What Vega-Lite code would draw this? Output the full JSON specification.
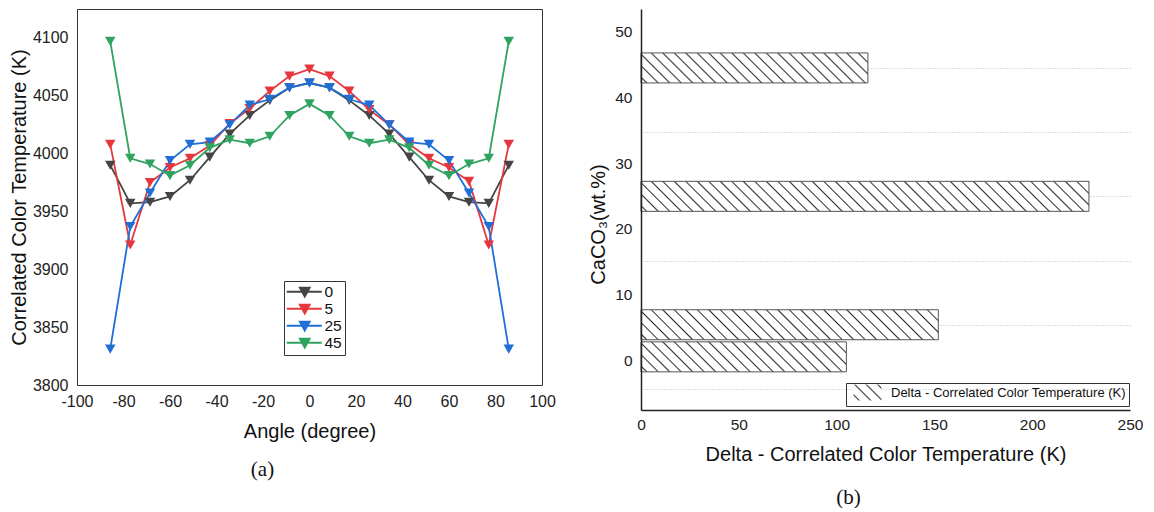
{
  "$schema": "https://vega.github.io/schema/vega-lite/v6.json",
  "background": "white",
  "padding": {"left": 8, "top": 8, "right": 0, "bottom": 0},
  "spacing": 32,
  "resolve": {"scale": {"color": "independent", "strokeDash": "independent"}, "legend": {"color": "independent", "strokeDash": "independent"}},
  "config": {
    "font": "Liberation Sans",
    "axis": {"labelFont": "Liberation Sans", "titleFont": "Liberation Sans", "labelColor": "#222", "titleColor": "#111", "titleFontWeight": "normal", "ticks": false, "grid": false, "labelFontSize": 16, "titleFontSize": 20, "labelFlush": false, "labelOverlap": false}
  },
  "datasets": {
    "cct": [
      {"angle": -85.7, "series": "0", "cct": 3990}, {"angle": -77.1, "series": "0", "cct": 3957}, {"angle": -68.6, "series": "0", "cct": 3958}, {"angle": -60, "series": "0", "cct": 3963}, {"angle": -51.4, "series": "0", "cct": 3977}, {"angle": -42.9, "series": "0", "cct": 3997}, {"angle": -34.3, "series": "0", "cct": 4017}, {"angle": -25.7, "series": "0", "cct": 4033}, {"angle": -17.1, "series": "0", "cct": 4046}, {"angle": -8.6, "series": "0", "cct": 4057}, {"angle": 0, "series": "0", "cct": 4061}, {"angle": 8.6, "series": "0", "cct": 4057}, {"angle": 17.1, "series": "0", "cct": 4046}, {"angle": 25.7, "series": "0", "cct": 4033}, {"angle": 34.3, "series": "0", "cct": 4017}, {"angle": 42.9, "series": "0", "cct": 3997}, {"angle": 51.4, "series": "0", "cct": 3977}, {"angle": 60, "series": "0", "cct": 3963}, {"angle": 68.6, "series": "0", "cct": 3958}, {"angle": 77.1, "series": "0", "cct": 3957}, {"angle": 85.7, "series": "0", "cct": 3990},
      {"angle": -85.7, "series": "5", "cct": 4008}, {"angle": -77.1, "series": "5", "cct": 3921}, {"angle": -68.6, "series": "5", "cct": 3975}, {"angle": -60, "series": "5", "cct": 3988}, {"angle": -51.4, "series": "5", "cct": 3996}, {"angle": -42.9, "series": "5", "cct": 4007}, {"angle": -34.3, "series": "5", "cct": 4026}, {"angle": -25.7, "series": "5", "cct": 4039}, {"angle": -17.1, "series": "5", "cct": 4054}, {"angle": -8.6, "series": "5", "cct": 4067}, {"angle": 0, "series": "5", "cct": 4073}, {"angle": 8.6, "series": "5", "cct": 4067}, {"angle": 17.1, "series": "5", "cct": 4054}, {"angle": 25.7, "series": "5", "cct": 4038}, {"angle": 34.3, "series": "5", "cct": 4025}, {"angle": 42.9, "series": "5", "cct": 4008}, {"angle": 51.4, "series": "5", "cct": 3996}, {"angle": 60, "series": "5", "cct": 3988}, {"angle": 68.6, "series": "5", "cct": 3976}, {"angle": 77.1, "series": "5", "cct": 3921}, {"angle": 85.7, "series": "5", "cct": 4008},
      {"angle": -85.7, "series": "25", "cct": 3831}, {"angle": -77.1, "series": "25", "cct": 3937}, {"angle": -68.6, "series": "25", "cct": 3966}, {"angle": -60, "series": "25", "cct": 3994}, {"angle": -51.4, "series": "25", "cct": 4008}, {"angle": -42.9, "series": "25", "cct": 4010}, {"angle": -34.3, "series": "25", "cct": 4025}, {"angle": -25.7, "series": "25", "cct": 4042}, {"angle": -17.1, "series": "25", "cct": 4047}, {"angle": -8.6, "series": "25", "cct": 4057}, {"angle": 0, "series": "25", "cct": 4061}, {"angle": 8.6, "series": "25", "cct": 4057}, {"angle": 17.1, "series": "25", "cct": 4047}, {"angle": 25.7, "series": "25", "cct": 4042}, {"angle": 34.3, "series": "25", "cct": 4025}, {"angle": 42.9, "series": "25", "cct": 4010}, {"angle": 51.4, "series": "25", "cct": 4008}, {"angle": 60, "series": "25", "cct": 3994}, {"angle": 68.6, "series": "25", "cct": 3966}, {"angle": 77.1, "series": "25", "cct": 3937}, {"angle": 85.7, "series": "25", "cct": 3831},
      {"angle": -85.7, "series": "45", "cct": 4097}, {"angle": -77.1, "series": "45", "cct": 3996}, {"angle": -68.6, "series": "45", "cct": 3991}, {"angle": -60, "series": "45", "cct": 3981}, {"angle": -51.4, "series": "45", "cct": 3990}, {"angle": -42.9, "series": "45", "cct": 4005}, {"angle": -34.3, "series": "45", "cct": 4012}, {"angle": -25.7, "series": "45", "cct": 4009}, {"angle": -17.1, "series": "45", "cct": 4015}, {"angle": -8.6, "series": "45", "cct": 4033}, {"angle": 0, "series": "45", "cct": 4043}, {"angle": 8.6, "series": "45", "cct": 4033}, {"angle": 17.1, "series": "45", "cct": 4015}, {"angle": 25.7, "series": "45", "cct": 4009}, {"angle": 34.3, "series": "45", "cct": 4012}, {"angle": 42.9, "series": "45", "cct": 4005}, {"angle": 51.4, "series": "45", "cct": 3990}, {"angle": 60, "series": "45", "cct": 3981}, {"angle": 68.6, "series": "45", "cct": 3991}, {"angle": 77.1, "series": "45", "cct": 3996}, {"angle": 85.7, "series": "45", "cct": 4097}
    ],
    "delta": [
      {"caco3": 0, "delta": 105},
      {"caco3": 5, "delta": 152},
      {"caco3": 25, "delta": 229},
      {"caco3": 45, "delta": 116}
    ]
  },
  "hconcat": [
    {
      "name": "L",
      "width": 465,
      "height": 376,
      "view": {"stroke": "#333", "strokeWidth": 1},
      "data": {"name": "cct"},
      "title": {"text": "(a)", "orient": "bottom", "font": "Liberation Serif", "fontSize": 21, "fontWeight": "normal", "color": "#111", "dx": -47, "offset": 18},
      "mark": {"type": "line", "strokeWidth": 1.8, "point": {"shape": "triangle-down", "filled": true, "size": 110}},
      "encoding": {
        "x": {"field": "angle", "type": "quantitative", "scale": {"domain": [-100, 100], "nice": false},
              "axis": {"values": [-100, -80, -60, -40, -20, 0, 20, 40, 60, 80, 100], "title": "Angle (degree)", "labelExpr": "datum.value", "domain": false, "labelPadding": 8, "titlePadding": 12}},
        "y": {"field": "cct", "type": "quantitative", "scale": {"domain": [3800, 4125], "nice": false, "zero": false},
              "axis": {"values": [3800, 3850, 3900, 3950, 4000, 4050, 4100], "format": "d", "title": "Correlated Color Temperature (K)", "domain": false, "labelPadding": 9, "titlePadding": 3}},
        "color": {"field": "series", "type": "nominal", "sort": ["0", "5", "25", "45"],
                  "scale": {"domain": ["0", "5", "25", "45"], "range": ["#454545", "#e5373d", "#1f6fd6", "#2fa35f"]},
                  "legend": {"orient": "none", "legendX": 207, "legendY": 272, "title": null, "strokeColor": "#333", "padding": 3, "symbolSize": 100, "labelFontSize": 15.5, "labelFont": "Liberation Sans", "labelColor": "#111", "labelOffset": 22, "rowPadding": 0,
                             "encode": {"symbols": {"update": {"shape": {"value": "M-8,0H27M5,-4H15L10,5Z"}, "size": {"value": 4}, "strokeWidth": {"value": 1.8}, "fill": {"scale": "L_color", "field": "value"}, "stroke": {"scale": "L_color", "field": "value"}, "opacity": {"value": 1}}}}}}
      }
    },
    {
      "width": 489,
      "height": 401,
      "view": {"stroke": null},
      "data": {"name": "delta"},
      "title": {"text": "(b)", "orient": "bottom", "font": "Liberation Serif", "fontSize": 21, "fontWeight": "normal", "color": "#111", "dx": -37, "offset": 22},
      "encoding": {
        "x": {"field": "delta", "type": "quantitative", "scale": {"domain": [0, 250], "nice": false},
              "axis": {"values": [0, 50, 100, 150, 200, 250], "title": "Delta - Correlated Color Temperature (K)", "domainColor": "#222", "domainWidth": 1.5, "labelPadding": 7, "titlePadding": 12, "labelFontSize": 15.5, "zindex": 1}}
      },
      "layer": [
        {
          "mark": {"type": "bar", "orient": "horizontal", "size": 30, "stroke": "#555", "strokeWidth": 1},
          "encoding": {
            "y": {"field": "caco3", "type": "quantitative", "scale": {"domain": [-7.5, 53.4], "nice": false, "zero": false},
                  "axis": {"orient": "right", "values": [-5, 5, 15, 25, 35, 45], "grid": true, "gridDash": [1, 2], "gridColor": "#bbb", "gridWidth": 1, "labels": false, "ticks": false, "domain": false, "title": null}},
            "fill": {
              "condition": [
                {"test": "datum.caco3 === 45", "value": {"gradient": "linear", "x1": 0, "y1": 1, "x2": 2.4906, "y2": 0.6707, "stops": [
                  {"offset":0.0074,"color":"#fff"},{"offset":0.01,"color":"#333"},{"offset":0.0126,"color":"#fff"},
                  {"offset":0.0274,"color":"#fff"},{"offset":0.03,"color":"#333"},{"offset":0.0326,"color":"#fff"},
                  {"offset":0.0474,"color":"#fff"},{"offset":0.05,"color":"#333"},{"offset":0.0526,"color":"#fff"},
                  {"offset":0.0674,"color":"#fff"},{"offset":0.07,"color":"#333"},{"offset":0.0726,"color":"#fff"},
                  {"offset":0.0874,"color":"#fff"},{"offset":0.09,"color":"#333"},{"offset":0.0926,"color":"#fff"},
                  {"offset":0.1074,"color":"#fff"},{"offset":0.11,"color":"#333"},{"offset":0.1126,"color":"#fff"},
                  {"offset":0.1274,"color":"#fff"},{"offset":0.13,"color":"#333"},{"offset":0.1326,"color":"#fff"},
                  {"offset":0.1474,"color":"#fff"},{"offset":0.15,"color":"#333"},{"offset":0.1526,"color":"#fff"},
                  {"offset":0.1674,"color":"#fff"},{"offset":0.17,"color":"#333"},{"offset":0.1726,"color":"#fff"},
                  {"offset":0.1874,"color":"#fff"},{"offset":0.19,"color":"#333"},{"offset":0.1926,"color":"#fff"},
                  {"offset":0.2074,"color":"#fff"},{"offset":0.21,"color":"#333"},{"offset":0.2126,"color":"#fff"},
                  {"offset":0.2274,"color":"#fff"},{"offset":0.23,"color":"#333"},{"offset":0.2326,"color":"#fff"},
                  {"offset":0.2474,"color":"#fff"},{"offset":0.25,"color":"#333"},{"offset":0.2526,"color":"#fff"},
                  {"offset":0.2674,"color":"#fff"},{"offset":0.27,"color":"#333"},{"offset":0.2726,"color":"#fff"},
                  {"offset":0.2874,"color":"#fff"},{"offset":0.29,"color":"#333"},{"offset":0.2926,"color":"#fff"},
                  {"offset":0.3074,"color":"#fff"},{"offset":0.31,"color":"#333"},{"offset":0.3126,"color":"#fff"},
                  {"offset":0.3274,"color":"#fff"},{"offset":0.33,"color":"#333"},{"offset":0.3326,"color":"#fff"},
                  {"offset":0.3474,"color":"#fff"},{"offset":0.35,"color":"#333"},{"offset":0.3526,"color":"#fff"},
                  {"offset":0.3674,"color":"#fff"},{"offset":0.37,"color":"#333"},{"offset":0.3726,"color":"#fff"},
                  {"offset":0.3874,"color":"#fff"},{"offset":0.39,"color":"#333"},{"offset":0.3926,"color":"#fff"},
                  {"offset":0.4074,"color":"#fff"},{"offset":0.41,"color":"#333"},{"offset":0.4126,"color":"#fff"},
                  {"offset":0.4274,"color":"#fff"},{"offset":0.43,"color":"#333"},{"offset":0.4326,"color":"#fff"}
                ]}},
                {"test": "datum.caco3 === 25", "value": {"gradient": "linear", "x1": 0, "y1": 1, "x2": 1.278, "y2": 0.9144, "stops": [
                  {"offset":0.0074,"color":"#fff"},{"offset":0.01,"color":"#333"},{"offset":0.0126,"color":"#fff"},
                  {"offset":0.0274,"color":"#fff"},{"offset":0.03,"color":"#333"},{"offset":0.0326,"color":"#fff"},
                  {"offset":0.0474,"color":"#fff"},{"offset":0.05,"color":"#333"},{"offset":0.0526,"color":"#fff"},
                  {"offset":0.0674,"color":"#fff"},{"offset":0.07,"color":"#333"},{"offset":0.0726,"color":"#fff"},
                  {"offset":0.0874,"color":"#fff"},{"offset":0.09,"color":"#333"},{"offset":0.0926,"color":"#fff"},
                  {"offset":0.1074,"color":"#fff"},{"offset":0.11,"color":"#333"},{"offset":0.1126,"color":"#fff"},
                  {"offset":0.1274,"color":"#fff"},{"offset":0.13,"color":"#333"},{"offset":0.1326,"color":"#fff"},
                  {"offset":0.1474,"color":"#fff"},{"offset":0.15,"color":"#333"},{"offset":0.1526,"color":"#fff"},
                  {"offset":0.1674,"color":"#fff"},{"offset":0.17,"color":"#333"},{"offset":0.1726,"color":"#fff"},
                  {"offset":0.1874,"color":"#fff"},{"offset":0.19,"color":"#333"},{"offset":0.1926,"color":"#fff"},
                  {"offset":0.2074,"color":"#fff"},{"offset":0.21,"color":"#333"},{"offset":0.2126,"color":"#fff"},
                  {"offset":0.2274,"color":"#fff"},{"offset":0.23,"color":"#333"},{"offset":0.2326,"color":"#fff"},
                  {"offset":0.2474,"color":"#fff"},{"offset":0.25,"color":"#333"},{"offset":0.2526,"color":"#fff"},
                  {"offset":0.2674,"color":"#fff"},{"offset":0.27,"color":"#333"},{"offset":0.2726,"color":"#fff"},
                  {"offset":0.2874,"color":"#fff"},{"offset":0.29,"color":"#333"},{"offset":0.2926,"color":"#fff"},
                  {"offset":0.3074,"color":"#fff"},{"offset":0.31,"color":"#333"},{"offset":0.3126,"color":"#fff"},
                  {"offset":0.3274,"color":"#fff"},{"offset":0.33,"color":"#333"},{"offset":0.3326,"color":"#fff"},
                  {"offset":0.3474,"color":"#fff"},{"offset":0.35,"color":"#333"},{"offset":0.3526,"color":"#fff"},
                  {"offset":0.3674,"color":"#fff"},{"offset":0.37,"color":"#333"},{"offset":0.3726,"color":"#fff"},
                  {"offset":0.3874,"color":"#fff"},{"offset":0.39,"color":"#333"},{"offset":0.3926,"color":"#fff"},
                  {"offset":0.4074,"color":"#fff"},{"offset":0.41,"color":"#333"},{"offset":0.4126,"color":"#fff"},
                  {"offset":0.4274,"color":"#fff"},{"offset":0.43,"color":"#333"},{"offset":0.4326,"color":"#fff"},
                  {"offset":0.4474,"color":"#fff"},{"offset":0.45,"color":"#333"},{"offset":0.4526,"color":"#fff"},
                  {"offset":0.4674,"color":"#fff"},{"offset":0.47,"color":"#333"},{"offset":0.4726,"color":"#fff"},
                  {"offset":0.4874,"color":"#fff"},{"offset":0.49,"color":"#333"},{"offset":0.4926,"color":"#fff"},
                  {"offset":0.5074,"color":"#fff"},{"offset":0.51,"color":"#333"},{"offset":0.5126,"color":"#fff"},
                  {"offset":0.5274,"color":"#fff"},{"offset":0.53,"color":"#333"},{"offset":0.5326,"color":"#fff"},
                  {"offset":0.5474,"color":"#fff"},{"offset":0.55,"color":"#333"},{"offset":0.5526,"color":"#fff"},
                  {"offset":0.5674,"color":"#fff"},{"offset":0.57,"color":"#333"},{"offset":0.5726,"color":"#fff"},
                  {"offset":0.5874,"color":"#fff"},{"offset":0.59,"color":"#333"},{"offset":0.5926,"color":"#fff"},
                  {"offset":0.6074,"color":"#fff"},{"offset":0.61,"color":"#333"},{"offset":0.6126,"color":"#fff"},
                  {"offset":0.6274,"color":"#fff"},{"offset":0.63,"color":"#333"},{"offset":0.6326,"color":"#fff"},
                  {"offset":0.6474,"color":"#fff"},{"offset":0.65,"color":"#333"},{"offset":0.6526,"color":"#fff"},
                  {"offset":0.6674,"color":"#fff"},{"offset":0.67,"color":"#333"},{"offset":0.6726,"color":"#fff"},
                  {"offset":0.6874,"color":"#fff"},{"offset":0.69,"color":"#333"},{"offset":0.6926,"color":"#fff"},
                  {"offset":0.7074,"color":"#fff"},{"offset":0.71,"color":"#333"},{"offset":0.7126,"color":"#fff"},
                  {"offset":0.7274,"color":"#fff"},{"offset":0.73,"color":"#333"},{"offset":0.7326,"color":"#fff"},
                  {"offset":0.7474,"color":"#fff"},{"offset":0.75,"color":"#333"},{"offset":0.7526,"color":"#fff"},
                  {"offset":0.7674,"color":"#fff"},{"offset":0.77,"color":"#333"},{"offset":0.7726,"color":"#fff"},
                  {"offset":0.7874,"color":"#fff"},{"offset":0.79,"color":"#333"},{"offset":0.7926,"color":"#fff"},
                  {"offset":0.8074,"color":"#fff"},{"offset":0.81,"color":"#333"},{"offset":0.8126,"color":"#fff"},
                  {"offset":0.8274,"color":"#fff"},{"offset":0.83,"color":"#333"},{"offset":0.8326,"color":"#fff"}
                ]}},
                {"test": "datum.caco3 === 5", "value": {"gradient": "linear", "x1": 0, "y1": 1, "x2": 1.9146, "y2": 0.8068, "stops": [
                  {"offset":0.0074,"color":"#fff"},{"offset":0.01,"color":"#333"},{"offset":0.0126,"color":"#fff"},
                  {"offset":0.0274,"color":"#fff"},{"offset":0.03,"color":"#333"},{"offset":0.0326,"color":"#fff"},
                  {"offset":0.0474,"color":"#fff"},{"offset":0.05,"color":"#333"},{"offset":0.0526,"color":"#fff"},
                  {"offset":0.0674,"color":"#fff"},{"offset":0.07,"color":"#333"},{"offset":0.0726,"color":"#fff"},
                  {"offset":0.0874,"color":"#fff"},{"offset":0.09,"color":"#333"},{"offset":0.0926,"color":"#fff"},
                  {"offset":0.1074,"color":"#fff"},{"offset":0.11,"color":"#333"},{"offset":0.1126,"color":"#fff"},
                  {"offset":0.1274,"color":"#fff"},{"offset":0.13,"color":"#333"},{"offset":0.1326,"color":"#fff"},
                  {"offset":0.1474,"color":"#fff"},{"offset":0.15,"color":"#333"},{"offset":0.1526,"color":"#fff"},
                  {"offset":0.1674,"color":"#fff"},{"offset":0.17,"color":"#333"},{"offset":0.1726,"color":"#fff"},
                  {"offset":0.1874,"color":"#fff"},{"offset":0.19,"color":"#333"},{"offset":0.1926,"color":"#fff"},
                  {"offset":0.2074,"color":"#fff"},{"offset":0.21,"color":"#333"},{"offset":0.2126,"color":"#fff"},
                  {"offset":0.2274,"color":"#fff"},{"offset":0.23,"color":"#333"},{"offset":0.2326,"color":"#fff"},
                  {"offset":0.2474,"color":"#fff"},{"offset":0.25,"color":"#333"},{"offset":0.2526,"color":"#fff"},
                  {"offset":0.2674,"color":"#fff"},{"offset":0.27,"color":"#333"},{"offset":0.2726,"color":"#fff"},
                  {"offset":0.2874,"color":"#fff"},{"offset":0.29,"color":"#333"},{"offset":0.2926,"color":"#fff"},
                  {"offset":0.3074,"color":"#fff"},{"offset":0.31,"color":"#333"},{"offset":0.3126,"color":"#fff"},
                  {"offset":0.3274,"color":"#fff"},{"offset":0.33,"color":"#333"},{"offset":0.3326,"color":"#fff"},
                  {"offset":0.3474,"color":"#fff"},{"offset":0.35,"color":"#333"},{"offset":0.3526,"color":"#fff"},
                  {"offset":0.3674,"color":"#fff"},{"offset":0.37,"color":"#333"},{"offset":0.3726,"color":"#fff"},
                  {"offset":0.3874,"color":"#fff"},{"offset":0.39,"color":"#333"},{"offset":0.3926,"color":"#fff"},
                  {"offset":0.4074,"color":"#fff"},{"offset":0.41,"color":"#333"},{"offset":0.4126,"color":"#fff"},
                  {"offset":0.4274,"color":"#fff"},{"offset":0.43,"color":"#333"},{"offset":0.4326,"color":"#fff"},
                  {"offset":0.4474,"color":"#fff"},{"offset":0.45,"color":"#333"},{"offset":0.4526,"color":"#fff"},
                  {"offset":0.4674,"color":"#fff"},{"offset":0.47,"color":"#333"},{"offset":0.4726,"color":"#fff"},
                  {"offset":0.4874,"color":"#fff"},{"offset":0.49,"color":"#333"},{"offset":0.4926,"color":"#fff"},
                  {"offset":0.5074,"color":"#fff"},{"offset":0.51,"color":"#333"},{"offset":0.5126,"color":"#fff"},
                  {"offset":0.5274,"color":"#fff"},{"offset":0.53,"color":"#333"},{"offset":0.5326,"color":"#fff"},
                  {"offset":0.5474,"color":"#fff"},{"offset":0.55,"color":"#333"},{"offset":0.5526,"color":"#fff"}
                ]}}
              ],
              "value": {"gradient": "linear", "x1": 0, "y1": 1, "x2": 2.741, "y2": 0.5997, "stops": [
                  {"offset":0.0074,"color":"#fff"},{"offset":0.01,"color":"#333"},{"offset":0.0126,"color":"#fff"},
                  {"offset":0.0274,"color":"#fff"},{"offset":0.03,"color":"#333"},{"offset":0.0326,"color":"#fff"},
                  {"offset":0.0474,"color":"#fff"},{"offset":0.05,"color":"#333"},{"offset":0.0526,"color":"#fff"},
                  {"offset":0.0674,"color":"#fff"},{"offset":0.07,"color":"#333"},{"offset":0.0726,"color":"#fff"},
                  {"offset":0.0874,"color":"#fff"},{"offset":0.09,"color":"#333"},{"offset":0.0926,"color":"#fff"},
                  {"offset":0.1074,"color":"#fff"},{"offset":0.11,"color":"#333"},{"offset":0.1126,"color":"#fff"},
                  {"offset":0.1274,"color":"#fff"},{"offset":0.13,"color":"#333"},{"offset":0.1326,"color":"#fff"},
                  {"offset":0.1474,"color":"#fff"},{"offset":0.15,"color":"#333"},{"offset":0.1526,"color":"#fff"},
                  {"offset":0.1674,"color":"#fff"},{"offset":0.17,"color":"#333"},{"offset":0.1726,"color":"#fff"},
                  {"offset":0.1874,"color":"#fff"},{"offset":0.19,"color":"#333"},{"offset":0.1926,"color":"#fff"},
                  {"offset":0.2074,"color":"#fff"},{"offset":0.21,"color":"#333"},{"offset":0.2126,"color":"#fff"},
                  {"offset":0.2274,"color":"#fff"},{"offset":0.23,"color":"#333"},{"offset":0.2326,"color":"#fff"},
                  {"offset":0.2474,"color":"#fff"},{"offset":0.25,"color":"#333"},{"offset":0.2526,"color":"#fff"},
                  {"offset":0.2674,"color":"#fff"},{"offset":0.27,"color":"#333"},{"offset":0.2726,"color":"#fff"},
                  {"offset":0.2874,"color":"#fff"},{"offset":0.29,"color":"#333"},{"offset":0.2926,"color":"#fff"},
                  {"offset":0.3074,"color":"#fff"},{"offset":0.31,"color":"#333"},{"offset":0.3126,"color":"#fff"},
                  {"offset":0.3274,"color":"#fff"},{"offset":0.33,"color":"#333"},{"offset":0.3326,"color":"#fff"},
                  {"offset":0.3474,"color":"#fff"},{"offset":0.35,"color":"#333"},{"offset":0.3526,"color":"#fff"},
                  {"offset":0.3674,"color":"#fff"},{"offset":0.37,"color":"#333"},{"offset":0.3726,"color":"#fff"},
                  {"offset":0.3874,"color":"#fff"},{"offset":0.39,"color":"#333"},{"offset":0.3926,"color":"#fff"}
              ]}
            }
          }
        },
        {
          "mark": {"type": "point", "opacity": 0, "filled": true, "stroke": "#444", "strokeWidth": 1,
                   "fill": {"gradient": "linear", "x1": 0, "y1": 1, "x2": 15.48, "y2": -7.846, "stops": [
                     {"offset":0.0074,"color":"#fff"},{"offset":0.01,"color":"#333"},{"offset":0.0126,"color":"#fff"},
                     {"offset":0.0274,"color":"#fff"},{"offset":0.03,"color":"#333"},{"offset":0.0326,"color":"#fff"},
                     {"offset":0.0474,"color":"#fff"},{"offset":0.05,"color":"#333"},{"offset":0.0526,"color":"#fff"},
                     {"offset":0.0674,"color":"#fff"},{"offset":0.07,"color":"#333"},{"offset":0.0726,"color":"#fff"}
                   ]}},
          "encoding": {
            "y": {"field": "caco3", "type": "quantitative", "scale": {"domain": [-7.5, 53.4], "nice": false, "zero": false},
                  "axis": {"values": [0, 10, 20, 30, 40, 50], "title": "CaCO₃(wt.%)", "domainColor": "#222", "domainWidth": 1.5, "labelPadding": 9, "titlePadding": 6, "titleY": 215, "labelFontSize": 15.5, "zindex": 1}},
            "strokeDash": {"datum": "Delta - Correlated Color Temperature (K)", "scale": {"range": [[1, 0]]},
                      "legend": {"orient": "none", "legendX": 205, "legendY": 374, "title": null, "strokeColor": "#333", "padding": 3,
                                 "symbolType": "M-2,-8H26V8H-2Z", "symbolSize": 4, "symbolStrokeColor": "#444", "symbolStrokeWidth": 1, "symbolOpacity": 1,
                                 "labelFontSize": 13, "labelFont": "Liberation Sans", "labelColor": "#111", "labelOffset": 29, "labelLimit": 400}}
          }
        }
      ],
      "resolve": {"scale": {"y": "independent"}, "axis": {"y": "independent"}}
    }
  ]
}
